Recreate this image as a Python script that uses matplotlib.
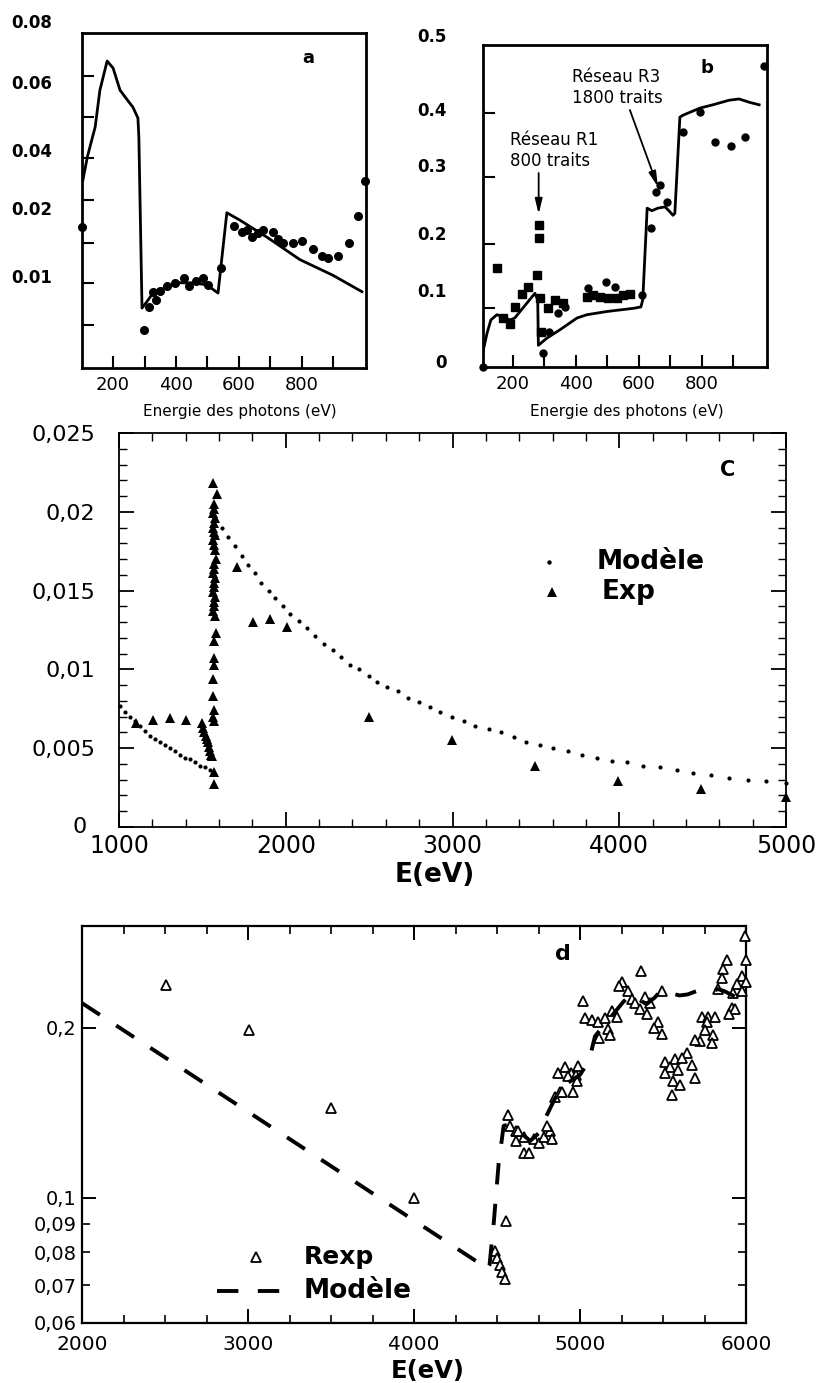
import numpy as np
import matplotlib
matplotlib.use("Agg")
import matplotlib.pyplot as plt
from matplotlib.ticker import FixedLocator, FixedFormatter, NullFormatter, MultipleLocator
from matplotlib.transforms import blended_transform_factory

plt.rcParams['font.family'] = ['DejaVu Sans']

# ---------------- data : panel a ----------------
a_model_x = [104, 118, 143, 158, 181, 200, 222, 238, 263, 279, 282, 292, 307, 327, 372, 413,
             455, 498, 534, 562, 604, 690, 795, 900, 992]
a_model_y = [0.0297, 0.0376, 0.0468, 0.0576, 0.0671, 0.0647, 0.0576, 0.0556, 0.0526, 0.0494,
             0.0438, 0.0053, 0.0062, 0.0075, 0.0084, 0.0090, 0.0090, 0.0087, 0.0075, 0.0193,
             0.0182, 0.0157, 0.0124, 0.0101, 0.0077]
a_exp_x = [101, 299, 314, 327, 335, 350, 371, 397, 427, 442, 464, 486, 502, 543, 585, 610,
           627, 642, 661, 677, 709, 725, 741, 773, 802, 836, 865, 884, 916, 951, 980, 1002]
a_exp_y = [0.0172, 0.0021, 0.0055, 0.0077, 0.0065, 0.0078, 0.0085, 0.0090, 0.0097, 0.0085,
           0.0093, 0.0097, 0.0087, 0.0112, 0.0174, 0.0165, 0.0168, 0.0157, 0.0163, 0.0168,
           0.0165, 0.0154, 0.0149, 0.0149, 0.0151, 0.0140, 0.0129, 0.0126, 0.0129, 0.0149,
           0.0188, 0.0293]
a_xticks = [200, 400, 600, 800]
a_xticklabels = ['200', '400', '600', '800']
a_yticks = [0.01, 0.02, 0.04, 0.06]
a_yticklabels = ['0.01', '0.02', '0.04', '0.06']

# ---------------- data : panel b ----------------
b_model_x = [104, 118, 130, 149, 168, 191, 206, 270, 279, 281, 308, 350, 404, 435, 499, 585,
             607, 613, 627, 642, 661, 684, 700, 709, 715, 731, 741, 795, 836, 887, 919, 951, 983]
b_model_y = [0.026, 0.057, 0.077, 0.085, 0.082, 0.077, 0.080, 0.118, 0.108, 0.038, 0.049,
             0.062, 0.080, 0.085, 0.090, 0.095, 0.097, 0.108, 0.249, 0.245, 0.249, 0.251,
             0.243, 0.238, 0.241, 0.389, 0.392, 0.403, 0.408, 0.415, 0.417, 0.412, 0.408]
b_sq_x = [149, 168, 191, 206, 229, 248, 276, 282, 282, 286, 288, 311, 333, 359, 435, 455,
          477, 502, 531, 550, 573]
b_sq_y = [0.157, 0.080, 0.071, 0.097, 0.117, 0.128, 0.146, 0.223, 0.203, 0.110, 0.058,
          0.095, 0.108, 0.103, 0.112, 0.115, 0.112, 0.110, 0.110, 0.115, 0.117]
b_circ_x = [104, 296, 315, 344, 366, 438, 496, 525, 610, 639, 655, 667, 690, 741, 795, 842,
            893, 938, 998]
b_circ_y = [0.005, 0.026, 0.058, 0.088, 0.097, 0.126, 0.135, 0.128, 0.115, 0.218, 0.274,
            0.285, 0.258, 0.366, 0.397, 0.351, 0.345, 0.359, 0.468]
b_xticks = [200, 400, 600, 800]
b_xticklabels = ['200', '400', '600', '800']
b_yticks = [0.014, 0.123, 0.211, 0.315, 0.4015]
b_yticklabels = ['0', '0.1', '0.2', '0.3', '0.4']
b_r1_target = (282, 0.240)
b_r3_target = (661, 0.282)

# ---------------- data : panel c ----------------
c_model_x = [1006, 1036, 1066, 1096, 1126, 1156, 1186, 1216, 1246, 1276, 1306, 1336, 1366,
             1396, 1426, 1456, 1486, 1516, 1546,
             1615, 1654, 1695, 1735, 1775, 1814, 1854, 1898, 1938, 1982, 2028, 2078, 2126,
             2174, 2231, 2282, 2332, 2386, 2440, 2500, 2547, 2610, 2673, 2733, 2800, 2863,
             2926, 2995, 3068, 3137, 3216, 3289, 3368, 3440, 3526, 3605, 3693, 3778, 3867,
             3958, 4046, 4141, 4242, 4346, 4441, 4552, 4656, 4773, 4883, 5000]
c_model_y = [0.0077, 0.0073, 0.0070, 0.0067, 0.0064, 0.0061, 0.0058, 0.0056, 0.0054, 0.0052,
             0.0050, 0.0048, 0.0046, 0.0044, 0.0043, 0.0041, 0.0039, 0.0038, 0.0036,
             0.0190, 0.0184, 0.0178, 0.0172, 0.0166, 0.0161, 0.0155, 0.0150, 0.0145, 0.0140,
             0.0135, 0.0131, 0.0126, 0.0121, 0.0116, 0.0112, 0.0108, 0.0103, 0.0100, 0.0096,
             0.0092, 0.0089, 0.0086, 0.0082, 0.0079, 0.0076, 0.0073, 0.0070, 0.0067, 0.0064,
             0.0062, 0.0060, 0.0057, 0.0054, 0.0052, 0.0050, 0.0048, 0.0046, 0.0044, 0.0042,
             0.0041, 0.0039, 0.0038, 0.0036, 0.0034, 0.0033, 0.0031, 0.0030, 0.0029, 0.0028]
c_exp_x = [1565, 1590, 1568, 1572, 1565, 1575, 1568, 1562, 1572, 1578, 1565, 1570, 1575,
           1580, 1568, 1572, 1565, 1575, 1568, 1572, 1565, 1575, 1568, 1572, 1565, 1575,
           1580, 1568, 1572, 1568, 1565, 1565, 1570, 1565, 1570, 1568, 1568,
           1500, 1505, 1512, 1520, 1528, 1535, 1542, 1548, 1552, 1556,
           1102, 1202, 1305, 1401, 1706, 1803, 1904, 2006, 2500, 2995, 3494, 3990, 4489, 5000]
c_exp_y = [0.0218, 0.0211, 0.0205, 0.0202, 0.0199, 0.0196, 0.0193, 0.0190, 0.0187, 0.0185,
           0.0182, 0.0179, 0.0176, 0.0170, 0.0167, 0.0164, 0.0161, 0.0158, 0.0155, 0.0152,
           0.0149, 0.0146, 0.0143, 0.0140, 0.0137, 0.0134, 0.0123, 0.0118, 0.0107, 0.0103,
           0.0094, 0.0083, 0.0074, 0.0070, 0.0067, 0.0035, 0.0027,
           0.0066, 0.0063, 0.0060, 0.0058, 0.0056, 0.0054, 0.0051, 0.0048, 0.0046, 0.0045,
           0.0066, 0.0068, 0.0069, 0.0068, 0.0165, 0.0130, 0.0132, 0.0127, 0.0070, 0.0055,
           0.0039, 0.0029, 0.0024, 0.0019]
c_xticks = [1000, 2000, 3000, 4000, 5000]
c_xticklabels = ['1000', '2000', '3000', '4000', '5000']
c_yticks = [0, 0.005, 0.01, 0.015, 0.02, 0.025]
c_yticklabels = ['', '0,005', '0,01', '0,015', '0,02', '0,025']
c_zero_label = '0'
c_series = ['Modèle', 'Exp']

# ---------------- data : panel d ----------------
d_model_x = [2000, 4425, 4440, 4455, 4480, 4510, 4540, 4580, 4620, 4660, 4700, 4750, 4800,
             4850, 4900, 4960, 5000, 5040, 5065, 5090, 5150, 5210, 5260, 5300, 5350, 5400,
             5450, 5490, 5550, 5600, 5650, 5700, 5750, 5800, 5830, 5870, 5920, 5960, 6000]
d_model_y = [0.221, 0.0755, 0.0745, 0.0760, 0.090, 0.115, 0.134, 0.135, 0.132, 0.129, 0.126,
             0.130, 0.140, 0.150, 0.158, 0.162, 0.165, 0.172, 0.180, 0.193, 0.203, 0.213,
             0.222, 0.228, 0.225, 0.220, 0.226, 0.233, 0.230, 0.228, 0.229, 0.232, 0.233,
             0.232, 0.234, 0.232, 0.228, 0.224, 0.221]
d_exp_x = [2505, 3006, 3499, 3997, 4556, 4486, 4502, 4518, 4533, 4549, 4565, 4581, 4612,
           4628, 4660, 4612, 4660, 4691, 4723, 4754, 4786, 4817, 4833, 4801, 4849, 4880,
           4865, 4943, 4975,
           5994, 6000, 5883, 5861, 5855, 5831, 5976, 6000, 5946, 5976, 5922, 5914, 5932,
           5898, 5367, 5253, 5235, 5289, 5313, 5331, 5361, 5403, 5391, 5421, 5470, 5446,
           5494, 5494, 5018, 5030, 5072, 5108, 5151, 5193, 5223, 5169, 5181, 5114, 5735,
           5771, 5813, 5765, 5753, 5801, 5795, 5723, 5693, 5644, 5675, 5693, 5512, 5572,
           5614, 5542, 5590, 5512, 5560, 5602, 5554, 4910, 4988, 4929, 4982, 4891, 4958]
d_exp_y = [0.238, 0.198, 0.144, 0.100, 0.091, 0.0806, 0.0782, 0.0760, 0.0739, 0.0717,
           0.140, 0.134, 0.131, 0.131, 0.128, 0.126, 0.120, 0.120, 0.127, 0.125, 0.128,
           0.131, 0.127, 0.134, 0.151, 0.154, 0.166, 0.166, 0.165,
           0.290, 0.263, 0.263, 0.254, 0.245, 0.234, 0.247, 0.241, 0.239, 0.232, 0.230,
           0.217, 0.216, 0.211, 0.252, 0.241, 0.237, 0.232, 0.225, 0.221, 0.216, 0.211,
           0.227, 0.221, 0.205, 0.200, 0.195, 0.232, 0.223, 0.208, 0.206, 0.205, 0.208,
           0.214, 0.209, 0.199, 0.194, 0.192, 0.209, 0.209, 0.209, 0.205, 0.198, 0.194,
           0.188, 0.189, 0.190, 0.180, 0.172, 0.163, 0.174, 0.176, 0.177, 0.170, 0.168,
           0.166, 0.161, 0.158, 0.152, 0.170, 0.171, 0.164, 0.161, 0.154, 0.154]
d_xticks = [2000, 3000, 4000, 5000, 6000]
d_xticklabels = ['2000', '3000', '4000', '5000', '6000']
d_ymajor = [0.1, 0.2]
d_ymajor_labels = ['0,1', '0,2']
d_yminor = [0.06, 0.07, 0.08, 0.09]
d_yminor_labels = ['0,06', '0,07', '0,08', '0,09']
d_series = ['Rexp', 'Modèle']

# ---------------- figure ----------------
W, H = 821, 1383
fig = plt.figure(figsize=(W / 100, H / 100), dpi=100)


def box(l, t, r, b):
    return [l / W, 1 - b / H, (r - l) / W, (b - t) / H]


# ===== panel a =====
axA = fig.add_axes(box(82, 33, 366, 368))
A_KNOT_VAL = [-0.02, 0.01, 0.02, 0.04, 0.06, 0.08, 0.12]
A_KNOT_POS = [-112.4, 92.0, 160.0, 218.0, 286.0, 345.0, 463.0]
axA.set_yscale('function', functions=(lambda v: np.interp(v, A_KNOT_VAL, A_KNOT_POS),
                                      lambda p: np.interp(p, A_KNOT_POS, A_KNOT_VAL)))
axA.plot(a_model_x, a_model_y, color='k', lw=2.0)
axA.plot(a_exp_x, a_exp_y, 'o', color='k', ms=5.5, clip_on=False)
axA.set_xlim(101, 1005)
axA.set_ylim(-0.0035, 0.0766)
for s in axA.spines.values():
    s.set_linewidth(2.0)
axA.xaxis.set_major_locator(FixedLocator(a_xticks))
axA.xaxis.set_major_formatter(FixedFormatter(a_xticklabels))
axA.xaxis.set_minor_locator(FixedLocator([300, 500, 700, 900]))
axA.tick_params(axis='x', which='both', direction='in', length=8.5, width=1.5, pad=5.5,
                labelsize=13)
axA.yaxis.set_major_locator(FixedLocator(a_yticks))
axA.yaxis.set_major_formatter(FixedFormatter(a_yticklabels))
axA.yaxis.set_minor_locator(FixedLocator([0.0028, 0.00897, 0.01485, 0.02276, 0.0372,
                                          0.0497, 0.062]))
axA.yaxis.set_minor_formatter(NullFormatter())
axA.tick_params(axis='y', which='major', length=0, pad=21.6, labelsize=12)
axA.tick_params(axis='y', which='minor', direction='in', length=8.5, width=1.5)
for lbl in axA.get_yticklabels():
    lbl.set_fontweight('bold')
axA.text(-0.1056, 0.08, '0.08', transform=blended_transform_factory(axA.transAxes, axA.transData),
         ha='right', va='center', fontsize=12, fontweight='bold', clip_on=False)
axA.set_xlabel('Energie des photons (eV)', fontsize=11)
axA.xaxis.set_label_coords(0.556, -0.108)
axA.text(0.796, 0.925, 'a', transform=axA.transAxes, fontsize=13, fontweight='bold',
         ha='center', va='center')

# ===== panel b =====
axB = fig.add_axes(box(483, 45, 767, 367))
axB.plot(b_model_x, b_model_y, color='k', lw=2.0)
axB.plot(b_sq_x, b_sq_y, 's', color='k', ms=6, clip_on=False)
axB.plot(b_circ_x, b_circ_y, 'o', color='k', ms=5, clip_on=False)
axB.set_xlim(105, 1008)
axB.set_ylim(0.0046, 0.5)
for s in axB.spines.values():
    s.set_linewidth(2.0)
axB.xaxis.set_major_locator(FixedLocator(b_xticks))
axB.xaxis.set_major_formatter(FixedFormatter(b_xticklabels))
axB.xaxis.set_minor_locator(FixedLocator([300, 500, 700, 900]))
axB.tick_params(axis='x', which='both', direction='in', length=8.5, width=1.5, pad=5.5,
                labelsize=13)
axB.yaxis.set_major_locator(FixedLocator(b_yticks))
axB.yaxis.set_major_formatter(FixedFormatter(b_yticklabels))
axB.yaxis.set_minor_locator(FixedLocator([0.095, 0.194, 0.297, 0.395]))
axB.yaxis.set_minor_formatter(NullFormatter())
axB.tick_params(axis='y', which='major', length=0, pad=26, labelsize=12)
axB.tick_params(axis='y', which='minor', direction='in', length=8.5, width=1.5)
for lbl in axB.get_yticklabels():
    lbl.set_fontweight('bold')
axB.text(-0.1268, 0.512, '0.5', transform=blended_transform_factory(axB.transAxes, axB.transData),
         ha='right', va='center', fontsize=12, fontweight='bold', clip_on=False)
axB.set_xlabel('Energie des photons (eV)', fontsize=11)
axB.xaxis.set_label_coords(0.505, -0.114)
axB.text(0.789, 0.929, 'b', transform=axB.transAxes, fontsize=13, fontweight='bold',
         ha='center', va='center')
arrow_style = dict(arrowstyle='-|>,head_length=0.9,head_width=0.22', color='k', lw=1.3,
                   shrinkA=0, shrinkB=0)
axB.annotate('Réseau R1\n800 traits', xy=b_r1_target, xytext=(190, 0.338), fontsize=12,
             ha='left', va='center', linespacing=1.2)
axB.annotate('', xy=b_r1_target, xytext=(282, 0.303), arrowprops=arrow_style)
axB.annotate('Réseau R3\n1800 traits', xy=b_r3_target, xytext=(388, 0.434), fontsize=12,
             ha='left', va='center', linespacing=1.2)
axB.annotate('', xy=b_r3_target, xytext=(572, 0.400), arrowprops=arrow_style)

# ===== panel c =====
axC = fig.add_axes(box(119, 433, 786, 827))
axC.plot(c_model_x, c_model_y, 'o', color='k', ms=3.0, mew=0, clip_on=False)
axC.plot(c_exp_x, c_exp_y, '^', color='k', ms=6.5, mew=0, clip_on=False)
axC.set_xlim(1000, 5000)
axC.set_ylim(0, 0.025)
for s in axC.spines.values():
    s.set_linewidth(1.3)
axC.xaxis.set_major_locator(FixedLocator(c_xticks))
axC.xaxis.set_major_formatter(FixedFormatter(c_xticklabels))
axC.xaxis.set_minor_locator(MultipleLocator(200))
axC.yaxis.set_major_locator(FixedLocator(c_yticks))
axC.yaxis.set_major_formatter(FixedFormatter(c_yticklabels))
axC.yaxis.set_minor_locator(MultipleLocator(0.001))
axC.tick_params(which='both', direction='in', top=True, right=True)
axC.tick_params(which='major', length=11, width=1.3)
axC.tick_params(which='minor', length=5.5, width=1.0)
axC.tick_params(axis='x', labelsize=17, pad=5)
axC.tick_params(axis='y', labelsize=16, pad=17)
axC.text(-0.049, 0.0, c_zero_label, transform=blended_transform_factory(axC.transAxes, axC.transData),
         ha='right', va='center', fontsize=16, clip_on=False)
axC.set_xlabel('E(eV)', fontsize=19, fontweight='bold')
axC.xaxis.set_label_coords(0.474, -0.089)
axC.text(0.913, 0.906, 'C', transform=axC.transAxes, fontsize=15, fontweight='bold',
         ha='center', va='center')
axC.plot([3581], [0.01684], 'o', color='k', ms=3.2, mew=0)
axC.text(3862, 0.01684, c_series[0], fontsize=19, fontweight='bold', ha='left', va='center')
axC.plot([3599], [0.01488], '^', color='k', ms=6.5, mew=0)
axC.text(3892, 0.01488, c_series[1], fontsize=19, fontweight='bold', ha='left', va='center')

# ===== panel d =====
axD = fig.add_axes(box(82, 926, 746, 1323))
axD.set_yscale('log')
axD.plot(d_exp_x, d_exp_y, '^', mfc='white', mec='k', ms=7.5, mew=1.3, clip_on=False,
         zorder=3)
axD.plot(d_model_x, d_model_y, color='k', lw=2.8, dashes=(5.5, 5.0), zorder=4)
axD.set_xlim(2000, 6000)
axD.set_ylim(0.06, 0.3026)
for s in axD.spines.values():
    s.set_linewidth(1.6)
axD.xaxis.set_major_locator(FixedLocator(d_xticks))
axD.xaxis.set_major_formatter(FixedFormatter(d_xticklabels))
axD.xaxis.set_minor_locator(MultipleLocator(250))
axD.xaxis.set_minor_formatter(NullFormatter())
axD.yaxis.set_major_locator(FixedLocator(d_ymajor))
axD.yaxis.set_major_formatter(FixedFormatter(d_ymajor_labels))
axD.yaxis.set_minor_locator(FixedLocator(d_yminor))
axD.yaxis.set_minor_formatter(FixedFormatter(d_yminor_labels))
axD.tick_params(which='both', direction='in', top=True, right=True)
axD.tick_params(which='major', length=10, width=1.4)
axD.tick_params(which='minor', length=6, width=1.2)
axD.tick_params(axis='x', which='both', labelsize=14.5, pad=8.3)
axD.tick_params(axis='y', which='both', labelsize=14, pad=4)
axD.set_xlabel('E(eV)', fontsize=17.5, fontweight='bold')
axD.xaxis.set_label_coords(0.52, -0.0905)
axD.text(0.724, 0.930, 'd', transform=axD.transAxes, fontsize=16, fontweight='bold',
         ha='center', va='center')
axD.plot([3048], [0.0785], '^', mfc='white', mec='k', ms=7.5, mew=1.3)
axD.text(3337, 0.0785, d_series[0], fontsize=18, fontweight='bold', ha='left', va='center')
axD.plot([2813, 3295], [0.0684, 0.0684], color='k', lw=2.8, dashes=(5.5, 5.0))
axD.text(3337, 0.0684, d_series[1], fontsize=19, fontweight='bold', ha='left', va='center')

fig.savefig('out.png', dpi=100)
